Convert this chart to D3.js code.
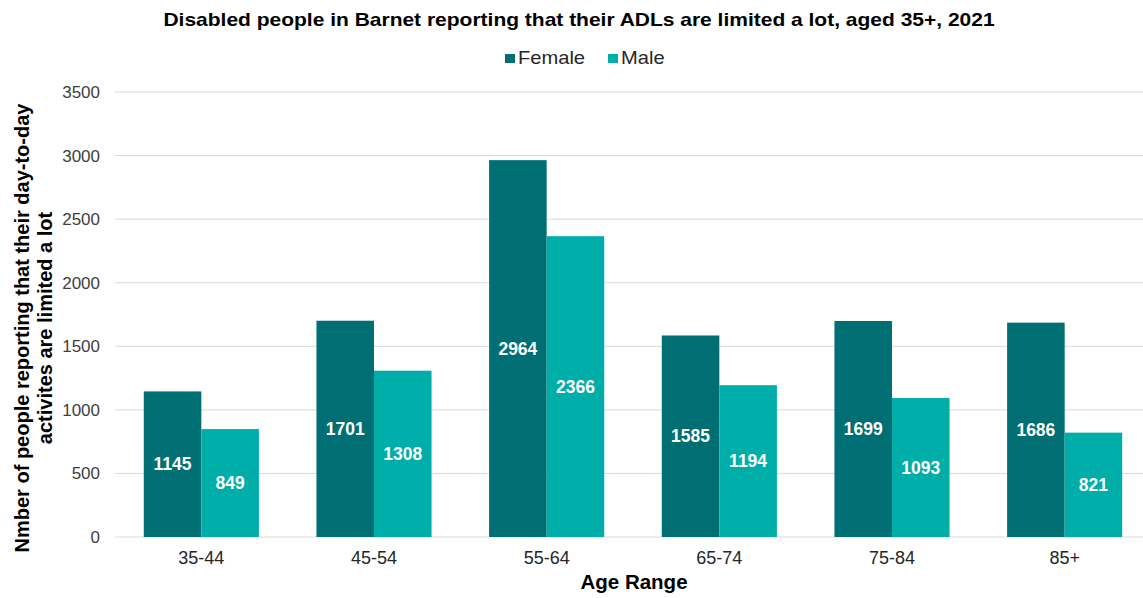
<!DOCTYPE html>
<html>
<head>
<meta charset="utf-8">
<script src="https://cdn.jsdelivr.net/npm/d3@7"></script>
<style>
  body { margin: 0; background: #fff; }
  svg { font-family: "Liberation Sans", Arial, sans-serif; }
</style>
</head>
<body>
<svg width="1143" height="598"></svg>
<script>
var ageRanges = ["35-44", "45-54", "55-64", "65-74", "75-84", "85+"];
var series = ["Female", "Male"];
var female = [1145, 1701, 2964, 1585, 1699, 1686];
var male = [849, 1308, 2366, 1194, 1093, 821];
var yTicks = [0, 500, 1000, 1500, 2000, 2500, 3000, 3500];
var colors = { Female: "#006f73", Male: "#00aea9" };

var data = ageRanges.map(function (a, i) {
    return { age: a, Female: female[i], Male: male[i] };
});

var svg = d3.select("svg"),
    margin = { top: 92, right: -8, bottom: 61, left: 115 },
    width = +svg.attr("width") - margin.left - margin.right,
    height = +svg.attr("height") - margin.top - margin.bottom;

var x0 = d3.scaleBand().domain(ageRanges).range([0, width])
    .paddingInner(1 / 3).paddingOuter(1 / 6);
var x1 = d3.scaleBand().domain(series).range([0, x0.bandwidth()]);
var y = d3.scaleLinear().domain([0, 3500]).range([height, 0]);

var g = svg.append("g")
    .attr("transform", "translate(" + margin.left + "," + margin.top + ")");

// gridlines
g.append("g")
    .selectAll("line")
    .data(yTicks)
    .enter().append("line")
    .attr("x1", 0)
    .attr("x2", 1143 - margin.left)
    .attr("y1", function (d) { return y(d); })
    .attr("y2", function (d) { return y(d); })
    .attr("stroke", "#d9d9d9")
    .attr("stroke-width", 1);

// y axis labels
var yAxis = g.append("g")
    .call(d3.axisLeft(y).tickValues(yTicks).tickFormat(d3.format("d")).tickSize(0).tickPadding(15));
yAxis.select(".domain").remove();
yAxis.selectAll("text")
    .attr("font-size", "17px")
    .attr("fill", "#404040")
    .attr("font-family", "Liberation Sans, Arial, sans-serif");

// x axis labels
var xAxis = g.append("g")
    .attr("transform", "translate(0," + height + ")")
    .call(d3.axisBottom(x0).tickSize(0).tickPadding(14));
xAxis.select(".domain").remove();
xAxis.selectAll("text")
    .attr("font-size", "18px")
    .attr("fill", "#262626")
    .attr("font-family", "Liberation Sans, Arial, sans-serif");

// bars
var groups = g.selectAll(".group")
    .data(data)
    .enter().append("g")
    .attr("class", "group")
    .attr("transform", function (d) { return "translate(" + x0(d.age) + ",0)"; });

var cells = groups.selectAll("g")
    .data(function (d) { return series.map(function (s) { return { key: s, value: d[s] }; }); })
    .enter().append("g");

cells.append("rect")
    .attr("x", function (d) { return x1(d.key); })
    .attr("y", function (d) { return y(d.value); })
    .attr("width", x1.bandwidth())
    .attr("height", function (d) { return height - y(d.value); })
    .attr("fill", function (d) { return colors[d.key]; });

cells.append("text")
    .attr("x", function (d) { return x1(d.key) + x1.bandwidth() / 2; })
    .attr("y", function (d) { return (y(d.value) + height) / 2; })
    .attr("dy", "0.35em")
    .attr("text-anchor", "middle")
    .attr("fill", "#fff")
    .attr("font-size", "17.5px")
    .attr("font-weight", "bold")
    .text(function (d) { return d.value; });

// title
svg.append("text")
    .attr("transform", "translate(579,26) scale(1.2,1)")
    .attr("text-anchor", "middle")
    .attr("font-size", "17.5px")
    .attr("font-weight", "bold")
    .attr("fill", "#000")
    .text("Disabled people in Barnet reporting that their ADLs are limited a lot, aged 35+, 2021");

// legend
var legend = svg.append("g").attr("transform", "translate(505,54)");
var legendX = [0, 103];
series.forEach(function (s, i) {
    var item = legend.append("g").attr("transform", "translate(" + legendX[i] + ",0)");
    item.append("rect")
        .attr("x", 0).attr("y", 0)
        .attr("width", 10).attr("height", 9)
        .attr("fill", colors[s]);
    item.append("text")
        .attr("transform", "translate(13,9.5) scale(1.15,1)")
        .attr("font-size", "17.5px")
        .attr("fill", "#262626")
        .text(s);
});

// axis titles
svg.append("text")
    .attr("x", 634)
    .attr("y", 589)
    .attr("text-anchor", "middle")
    .attr("font-size", "20.5px")
    .attr("font-weight", "bold")
    .attr("fill", "#000")
    .text("Age Range");

var yTitle = svg.append("text")
    .attr("transform", "translate(0,328) rotate(-90)")
    .attr("text-anchor", "middle")
    .attr("font-size", "20px")
    .attr("font-weight", "bold")
    .attr("fill", "#000");
yTitle.append("tspan").attr("x", 0).attr("y", 29).text("Nmber of people reporting that their day-to-day");
yTitle.append("tspan").attr("x", 0).attr("y", 52).text("activites are limited a lot");
</script>
</body>
</html>
